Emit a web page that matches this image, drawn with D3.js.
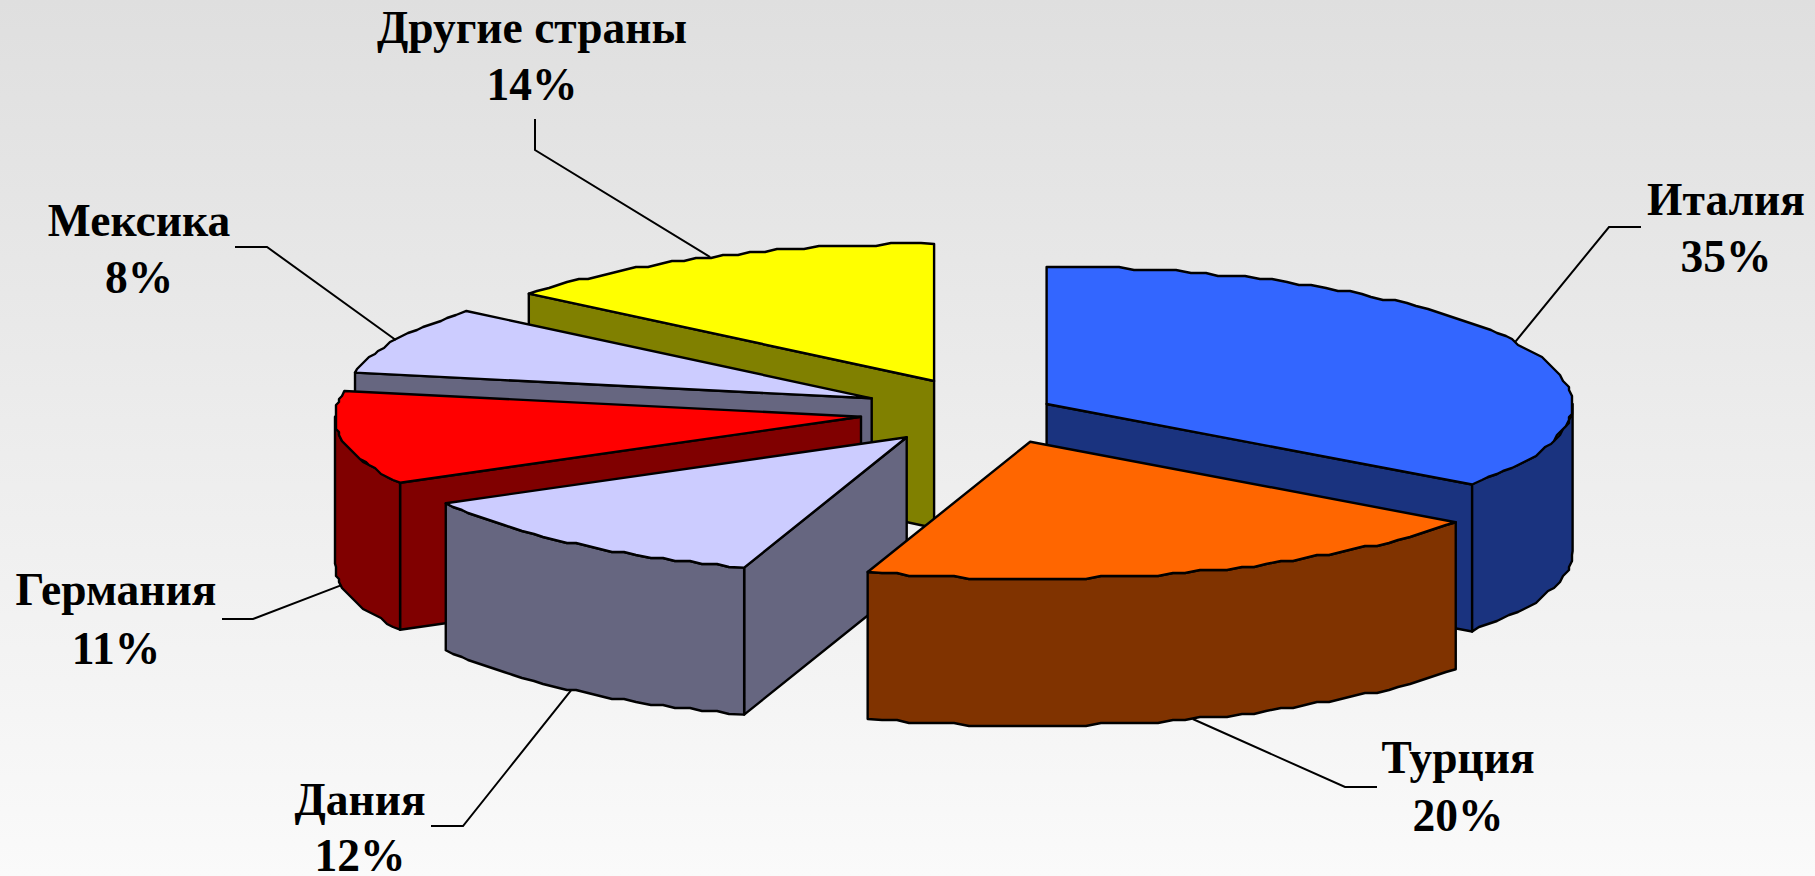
<!DOCTYPE html>
<html>
<head>
<meta charset="utf-8">
<script src="https://cdn.jsdelivr.net/npm/d3@7"></script>
<style>
    html, body {margin: 0; padding: 0; overflow: hidden;}
</style>
</head>
<body>
<div id="chart"></div>
<script>
// chart values
const countries = ["Италия", "Турция", "Дания", "Германия", "Мексика", "Другие страны"];
const shares = [35, 20, 12, 11, 8, 14];
const topColors = ["#3366ff", "#ff6600", "#ccccff", "#ff0000", "#ccccff", "#ffff00"];
const sideColors = ["#1a337f", "#803300", "#666680", "#800000", "#666680", "#808000"];

//SVG
const width = 1815;
const height = 876;
const pieD = {cx: 992.6, cy: 411, rx: 526, ry: 137, depth: 147};

// how far each slice is pulled out of the pie (dx, dy)
const pullOut = [[54, -7], [37.6, 30.7], [-85.9, 26.3], [-131.6, 5.7], [-120.9, -12.7], [-58.5, -30]];

// label centre + two baselines, then leader line elbow and end
const labelPos = [
    {x: 1726, y1: 215, y2: 272, elbow: [1609, 227], end: [1641, 227]},
    {x: 1458, y1: 773, y2: 831, elbow: [1345, 787], end: [1377, 787]},
    {x: 360, y1: 815, y2: 871, elbow: [463, 826], end: [431, 826]},
    {x: 116, y1: 605, y2: 664, elbow: [253, 619], end: [222, 619]},
    {x: 139, y1: 236, y2: 293, elbow: [267, 247], end: [235, 247]},
    {x: 532, y1: 43, y2: 100, elbow: [535, 150], end: [535, 119]}
];

// order the slices get painted, back to front
const paintOrder = [5, 4, 3, 2, 0, 1];

const svg = d3.select("#chart")
    .append("svg")
    .attr("width", width)
    .attr("height", height)
    .attr("viewBox", [0, 0, width, height])
    .style("display", "block");

const grad = svg.append("defs").append("linearGradient")
    .attr("id", "bg")
    .attr("x1", 0).attr("y1", 0).attr("x2", 0).attr("y2", 1);
grad.append("stop").attr("offset", "0%").attr("stop-color", "#dfdfdf");
grad.append("stop").attr("offset", "100%").attr("stop-color", "#fafafa");

svg.append("rect")
    .attr("width", width)
    .attr("height", height)
    .attr("fill", "url(#bg)");

const pie = d3.pie().sort(null).value(d => d);
const arcs = pie(shares);

const center = pullOut.map(d => [pieD.cx + d[0], pieD.cy + d[1]]);

function rim(i, a) {
    return [center[i][0] + pieD.rx * Math.sin(a), center[i][1] - pieD.ry * Math.cos(a)];
}

// the original has a rough, stepped outline on the curved edges
function snap(p) {
    return [Math.round(p[0] / 3) * 3, Math.round(p[1] / 3) * 3];
}

function arcPoints(i, a0, a1) {
    const n = Math.max(2, Math.round((a1 - a0) / (1.6 * Math.PI / 180)));
    const pts = d3.range(n + 1).map(k => {
        const p = rim(i, a0 + (a1 - a0) * k / n);
        return (k === 0 || k === n) ? p : snap(p);
    });
    return pts;
}

const line = d3.line();

function shape(pts, fill) {
    svg.append("path")
        .attr("d", line(pts) + "Z")
        .attr("fill", fill)
        .attr("stroke", "black")
        .attr("stroke-width", 2.4)
        .attr("stroke-linejoin", "round");
}

function radialWall(i, a) {
    const p = rim(i, a);
    const c = center[i];
    shape([c, p, [p[0], p[1] + pieD.depth], [c[0], c[1] + pieD.depth]], sideColors[i]);
}

paintOrder.forEach(i => {
    const a = arcs[i];
    // cut faces, only the ones turned to the viewer
    if (Math.sin(a.startAngle) < -1e-6) radialWall(i, a.startAngle);
    if (Math.sin(a.endAngle) > 1e-6) radialWall(i, a.endAngle);

    // outer wall, front half of the ellipse only
    const w0 = Math.max(a.startAngle, Math.PI / 2);
    const w1 = Math.min(a.endAngle, Math.PI * 1.5);
    if (w1 > w0) {
        const upper = arcPoints(i, w0, w1);
        const lower = upper.map(p => [p[0], p[1] + pieD.depth]).reverse();
        shape(upper.concat(lower), sideColors[i]);
    }

    // top face
    shape([center[i]].concat(arcPoints(i, a.startAngle, a.endAngle)), topColors[i]);
});

// Leader lines and labels
arcs.forEach((a, i) => {
    const mid = (a.startAngle + a.endAngle) / 2;
    const p = rim(i, mid);
    const front = Math.cos(mid) < 0;
    const start = [p[0], front ? p[1] + pieD.depth : p[1]];
    const pos = labelPos[i];

    svg.append("path")
        .attr("d", line([start, pos.elbow, pos.end]))
        .attr("fill", "none")
        .attr("stroke", "black")
        .attr("stroke-width", 2);

    const label = svg.append("text")
        .attr("text-anchor", "middle")
        .attr("font-family", "'Liberation Serif', serif")
        .attr("font-weight", "bold")
        .attr("font-size", "45.5px")
        .attr("fill", "black");
    label.append("tspan").attr("x", pos.x).attr("y", pos.y1).text(countries[i]);
    label.append("tspan").attr("x", pos.x).attr("y", pos.y2).text(shares[i] + "%");
});
</script>
</body>
</html>
